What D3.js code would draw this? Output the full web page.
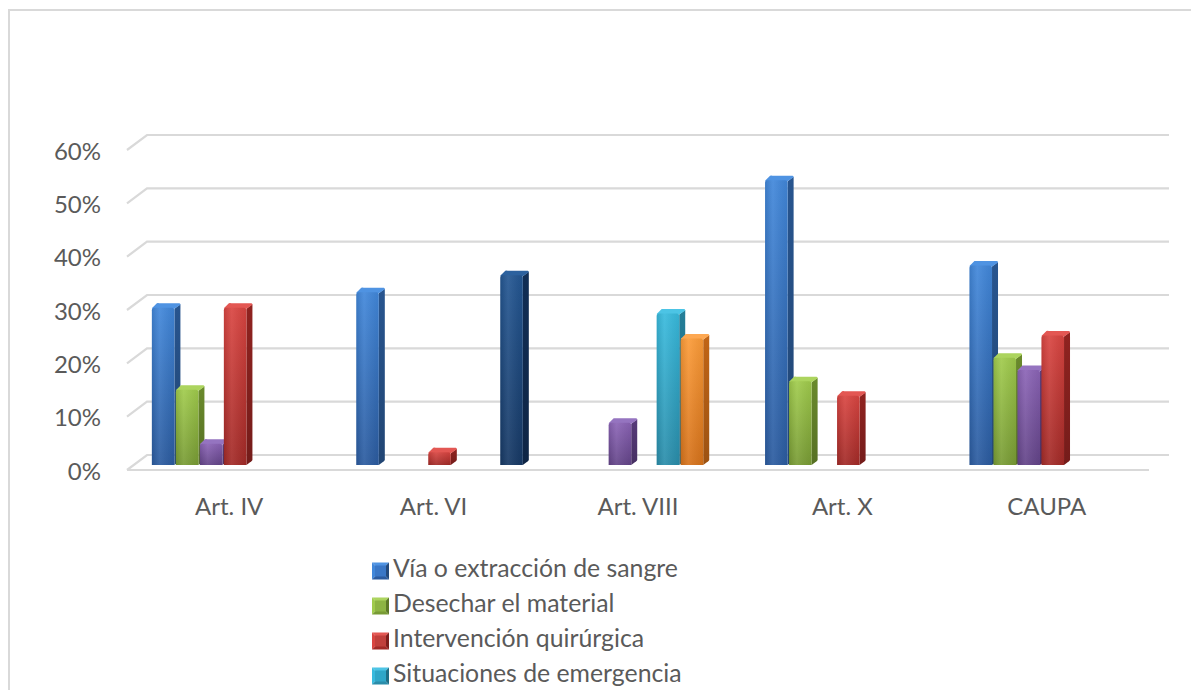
<!DOCTYPE html>
<html>
<head>
<meta charset="utf-8">
<script src="https://cdn.jsdelivr.net/npm/d3@7"></script>
<style>
  html, body { margin: 0; padding: 0; background: #ffffff; }
  svg { display: block; }
  text { font-family: Lato, "Open Sans", sans-serif; fill: #5a5a5a; }
</style>
</head>
<body>
<svg id="chart" width="1191" height="690"></svg>
<script>
// Categories (x axis)
const categories = ["Art. IV", "Art. VI", "Art. VIII", "Art. X", "CAUPA"];

// Series values (share of cases, 0..1), one array per series, in cluster order
const viaExtraccion    = [0.295, 0.324, 0,     0.534, 0.374];
const desecharMaterial = [0.141, 0,     0,     0.157, 0.201];
const serieMorada      = [0.040, 0,     0.079, 0,     0.178];
const intervencion     = [0.295, 0.024, 0,     0.130, 0.243];
const emergencia       = [0,     0,     0.284, 0,     0];
const serieNaranja     = [0,     0,     0.237, 0,     0];
const serieAzulOscuro  = [0,     0.356, 0,     0,     0];

// Value axis ticks
const yTickValues = [0, 0.1, 0.2, 0.3, 0.4, 0.5, 0.6];
const yTickLabels = ["0%", "10%", "20%", "30%", "40%", "50%", "60%"];

// Legend entries shown under the plot
const legendNames = [
  "Vía o extracción de sangre",
  "Desechar el material",
  "Intervención quirúrgica",
  "Situaciones de emergencia"
];
const legendKeys = ["via", "desechar", "intervencion", "emergencia"];

const seriesKeys = ["via", "desechar", "morada", "intervencion", "emergencia", "naranja", "azulOscuro"];
const seriesValues = {
  via: viaExtraccion,
  desechar: desecharMaterial,
  morada: serieMorada,
  intervencion: intervencion,
  emergencia: emergencia,
  naranja: serieNaranja,
  azulOscuro: serieAzulOscuro
};

// Shading per series: front top, front bottom, side, top cap
const palette = {
  via:          { hi: "#4187da", lo: "#2b5b9f", side: "#234a7c", cap: "#4f93e2", base: "#3a77c6" },
  desechar:     { hi: "#a0cb4c", lo: "#789b34", side: "#5c7826", cap: "#acd45e", base: "#8db443" },
  morada:       { hi: "#8b64b6", lo: "#634488", side: "#4b3369", cap: "#9574c0", base: "#7655a0" },
  intervencion: { hi: "#d94541", lo: "#a22a27", side: "#7d1e1c", cap: "#e35753", base: "#c0403c" },
  emergencia:   { hi: "#38badd", lo: "#2a8daa", side: "#1f6d84", cap: "#4cc4e5", base: "#30a6c7" },
  naranja:      { hi: "#fb9b38", lo: "#d6721a", side: "#a75813", cap: "#fda852", base: "#ee8a2c" },
  azulOscuro:   { hi: "#235692", lo: "#163864", side: "#0f284a", cap: "#2c619e", base: "#1d4679" }
};

const svg = d3.select("#chart");

// Outer frame of the chart area
svg.append("path")
  .attr("d", "M9,690 L9,10 L1191,10")
  .attr("fill", "none")
  .attr("stroke", "#d9d9d9")
  .attr("stroke-width", 2);

// Oblique projection: back wall coordinates plus a depth fraction (0 = back, 1 = front)
const depthDX = -20, depthDY = 15;
const proj = (x, y, d) => [x + depthDX * d, y + depthDY * d];

const wallLeft = 147, wallRight = 1169;
const y = d3.scaleLinear().domain([0, 0.6]).range([455, 135]);
const x = d3.scaleBand().domain(categories).range([wallLeft, wallRight]).paddingInner(0).paddingOuter(0);
const bw = x.bandwidth();
const clusterPad = 18.2;
const xs = d3.scaleBand().domain(seriesKeys).range([clusterPad, bw - clusterPad]).paddingInner(0);

// Gradients
const defs = svg.append("defs");
seriesKeys.forEach(k => {
  const c = palette[k];
  const g = defs.append("linearGradient").attr("id", "front-" + k)
    .attr("x1", 0).attr("y1", 0).attr("x2", 0).attr("y2", 1);
  g.append("stop").attr("offset", "0%").attr("stop-color", c.hi);
  g.append("stop").attr("offset", "100%").attr("stop-color", c.lo);
  const h = defs.append("linearGradient").attr("id", "sheen-" + k)
    .attr("x1", 0).attr("y1", 0).attr("x2", 1).attr("y2", 0);
  h.append("stop").attr("offset", "0%").attr("stop-color", "#000").attr("stop-opacity", 0.10);
  h.append("stop").attr("offset", "35%").attr("stop-color", "#fff").attr("stop-opacity", 0.08);
  h.append("stop").attr("offset", "100%").attr("stop-color", "#000").attr("stop-opacity", 0.06);
  const s = defs.append("linearGradient").attr("id", "side-" + k)
    .attr("x1", 0).attr("y1", 0).attr("x2", 0).attr("y2", 1);
  s.append("stop").attr("offset", "0%").attr("stop-color", d3.color(c.side).brighter(0.4));
  s.append("stop").attr("offset", "100%").attr("stop-color", d3.color(c.side).darker(0.2));
});

// Gridlines: left-wall diagonal plus back-wall horizontal
const grid = svg.append("g");
yTickValues.forEach(t => {
  const a = proj(wallLeft, y(t), 1), b = proj(wallLeft, y(t), 0), c = proj(wallRight, y(t), 0);
  grid.append("path")
    .attr("d", `M${a[0]},${a[1]} L${b[0]},${b[1]} L${c[0]},${c[1]}`)
    .attr("fill", "none")
    .attr("stroke", "#d9d9d9")
    .attr("stroke-width", 2.2);
});
// Front edge of the floor
{
  const a = proj(wallLeft, y(0), 1), b = proj(wallRight, y(0), 1);
  grid.append("line")
    .attr("x1", a[0]).attr("y1", a[1]).attr("x2", b[0]).attr("y2", b[1])
    .attr("stroke", "#d9d9d9").attr("stroke-width", 2.2);
}

// Value axis labels
svg.append("g").selectAll("text")
  .data(yTickValues)
  .join("text")
  .attr("x", 101)
  .attr("y", (d) => proj(wallLeft, y(d), 1)[1])
  .attr("text-anchor", "end")
  .attr("dominant-baseline", "central")
  .style("font-size", "24px")
  .text((d, i) => yTickLabels[i]);

// Category labels
svg.append("g").selectAll("text")
  .data(categories)
  .join("text")
  .attr("x", d => proj(x(d) + bw / 2, 0, 1)[0])
  .attr("y", 505)
  .attr("text-anchor", "middle")
  .attr("dominant-baseline", "central")
  .style("font-size", "24px")
  .text(d => d);

// Bars
const frontD = 0.667;           // depth of a bar's front face
const barDepth = 0.30;          // depth of the bar itself
const sdx = -depthDX * barDepth, sdy = -depthDY * barDepth;
const barW = xs.bandwidth() * 0.94;
const r = 2.5;

const bars = svg.append("g");
categories.forEach((cat, ci) => {
  seriesKeys.forEach(k => {
    const v = seriesValues[k][ci];
    if (!(v > 0)) return;
    const xb = x(cat) + xs(k);
    const [fl, ft] = proj(xb, y(v), frontD);
    const fb = proj(xb, y(0), frontD)[1];
    const fr = fl + barW;
    const g = bars.append("g");
    // right side face
    g.append("path")
      .attr("d", `M${fr},${ft + 1} L${fr + sdx},${ft + sdy + 1} L${fr + sdx},${fb + sdy - 1} Q${fr + sdx},${fb + sdy} ${fr + sdx - 1},${fb + sdy + 0.8} L${fr},${fb} Z`)
      .attr("fill", `url(#side-${k})`);
    // top cap
    g.append("path")
      .attr("d", `M${fl},${ft + 1} Q${fl},${ft} ${fl + 1.5},${ft - 1} L${fl + sdx - 1},${ft + sdy} Q${fl + sdx},${ft + sdy - 0.3} ${fl + sdx + 1.5},${ft + sdy} L${fr + sdx - 1},${ft + sdy} Q${fr + sdx},${ft + sdy} ${fr + sdx},${ft + sdy + 1.5} L${fr},${ft + 1} Z`)
      .attr("fill", palette[k].cap);
    // front face
    const frontPath = `M${fl},${fb} L${fl},${ft + r} Q${fl},${ft} ${fl + r},${ft} L${fr - r},${ft} Q${fr},${ft} ${fr},${ft + r} L${fr},${fb} Z`;
    g.append("path").attr("d", frontPath).attr("fill", `url(#front-${k})`);
    g.append("path").attr("d", frontPath).attr("fill", `url(#sheen-${k})`);
  });
});

// Legend
const legend = svg.append("g");
const legendRowY = [567, 602, 637, 672];
legendKeys.forEach((k, i) => {
  const c = palette[k];
  const cy = legendRowY[i] + 4;
  const s = 17, x0 = 372, y0 = cy - s / 2;
  const cx = x0 + s / 2, cyy = y0 + s / 2;
  const tri = (pts, fill) => legend.append("path")
    .attr("d", "M" + pts.map(p => p.join(",")).join(" L") + " Z")
    .attr("fill", fill);
  tri([[x0, y0], [x0 + s, y0], [cx, cyy]], c.cap);
  tri([[x0, y0], [cx, cyy], [x0, y0 + s]], c.hi);
  tri([[x0 + s, y0], [x0 + s, y0 + s], [cx, cyy]], c.side);
  tri([[x0, y0 + s], [cx, cyy], [x0 + s, y0 + s]], c.lo);
  legend.append("rect")
    .attr("x", x0 + 3).attr("y", y0 + 3).attr("width", s - 6).attr("height", s - 6)
    .attr("fill", c.base);
  legend.append("text")
    .attr("x", 393)
    .attr("y", legendRowY[i])
    .attr("dominant-baseline", "central")
    .style("font-size", "24.8px")
    .text(legendNames[i]);
});
</script>
</body>
</html>
